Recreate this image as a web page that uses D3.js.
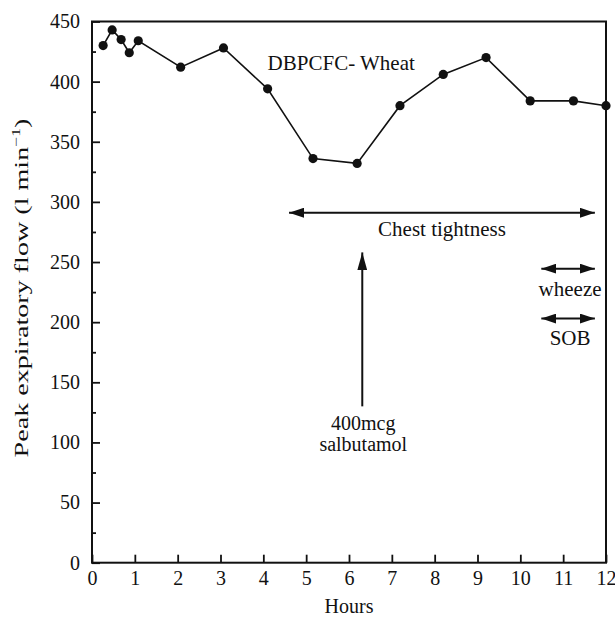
<!DOCTYPE html>
<html>
<head>
<meta charset="utf-8">
<script src="https://cdn.jsdelivr.net/npm/d3@7"></script>
<style>
  body { margin: 0; background: #fff; }
  svg { display: block; }
</style>
</head>
<body>
<svg id="chart"></svg>
<script>
// peak expiratory flow readings after wheat challenge
const hours = [0.26, 0.47, 0.68, 0.87, 1.08, 2.07, 3.07, 4.1, 5.16, 6.19, 7.19, 8.2, 9.2, 10.23, 11.24, 12];
const pef   = [430, 443, 435, 424, 434, 412, 428, 394, 336, 332, 380, 406, 420, 384, 384, 380];

const xTicks = d3.range(0, 13, 1);
const yTicks = d3.range(0, 451, 50);
const yMinor = d3.range(25, 450, 50);

// symptom spans: label, from hour, to hour, arrow value, label value
const spanLabels = ["Chest tightness", "wheeze", "SOB"];
const spanFrom   = [4.6, 10.49, 10.49];
const spanTo     = [11.74, 11.74, 11.74];
const spanAt     = [291, 244.5, 203];
const spanText   = [272, 222, 181];

// salbutamol dose arrow
const doseHour = 6.31;
const doseFrom = 130;
const doseTo   = 258;
const doseLines = ["400mcg", "salbutamol"];
const doseText  = [110, 92.5];

const W = 615, H = 622;
const plotL = 92, plotR = 606, plotT = 21.5, plotB = 562.7;
const font = "'Liberation Serif', 'Times New Roman', serif";
const ink = "#111";

const svg = d3.select("#chart").attr("width", W).attr("height", H);

const x = d3.scaleLinear().domain([0, 12]).range([plotL, plotR]);
const y = d3.scaleLinear().domain([0, 450]).range([plotB, plotT]);

const defs = svg.append("defs");
defs.append("marker")
    .attr("id", "headH")
    .attr("markerUnits", "userSpaceOnUse")
    .attr("viewBox", "0 -5 15 10")
    .attr("refX", 15).attr("refY", 0)
    .attr("markerWidth", 15).attr("markerHeight", 10)
    .attr("orient", "auto-start-reverse")
  .append("path").attr("d", "M0,-5L15,0L0,5Z").attr("fill", ink);
defs.append("marker")
    .attr("id", "headV")
    .attr("markerUnits", "userSpaceOnUse")
    .attr("viewBox", "0 -5 18 10")
    .attr("refX", 18).attr("refY", 0)
    .attr("markerWidth", 18).attr("markerHeight", 10)
    .attr("orient", "auto")
  .append("path").attr("d", "M0,-5L18,0L0,5Z").attr("fill", ink);

// axes
const xAxis = d3.axisBottom(x).tickValues(xTicks).tickSize(-8).tickPadding(8);
const gx = svg.append("g").attr("transform", `translate(0,${plotB})`).call(xAxis);
gx.select(".domain").remove();

const yAxis = d3.axisLeft(y).tickValues(yTicks).tickSize(-8).tickPadding(12);
const gy = svg.append("g").attr("transform", `translate(${plotL},0)`).call(yAxis);
gy.select(".domain").remove();

const yAxisMinor = d3.axisLeft(y).tickValues(yMinor).tickSize(-4).tickFormat("");
const gym = svg.append("g").attr("transform", `translate(${plotL},0)`).call(yAxisMinor);
gym.select(".domain").remove();

svg.selectAll(".tick line").attr("stroke", ink).attr("stroke-width", 1.8);
svg.selectAll(".tick text")
    .attr("font-family", font).attr("font-size", 20).attr("fill", ink);

// frame
svg.append("rect")
    .attr("x", x(0)).attr("y", y(450))
    .attr("width", x(12) - x(0)).attr("height", y(0) - y(450))
    .attr("fill", "none").attr("stroke", ink).attr("stroke-width", 2);

// axis titles
svg.append("text")
    .attr("x", (x(0) + x(12)) / 2).attr("y", 613)
    .attr("text-anchor", "middle")
    .attr("font-family", font).attr("font-size", 20).attr("fill", ink)
    .text("Hours");

// the original title is drawn stretched along its length
const yt = svg.append("text")
    .attr("transform", `translate(28,288) rotate(-90) scale(1.48,1)`)
    .attr("text-anchor", "middle")
    .attr("font-family", font).attr("font-size", 19).attr("fill", ink);
yt.append("tspan").text("Peak expiratory flow (l min");
yt.append("tspan").attr("font-size", 12).attr("dy", -8).text("\u22121");
yt.append("tspan").attr("dy", 8).text(")");

// data line
const line = d3.line().x(d => x(d[0])).y(d => y(d[1]));
const pts = hours.map((h, i) => [h, pef[i]]);
svg.append("path")
    .datum(pts)
    .attr("d", line)
    .attr("fill", "none").attr("stroke", ink).attr("stroke-width", 1.6);
svg.selectAll("circle.pt").data(pts).enter().append("circle")
    .attr("class", "pt")
    .attr("cx", d => x(d[0])).attr("cy", d => y(d[1]))
    .attr("r", 4.6).attr("fill", ink);

svg.append("text")
    .attr("x", x(4.1)).attr("y", 70)
    .attr("font-family", font).attr("font-size", 21).attr("fill", ink)
    .text("DBPCFC- Wheat");

// symptom arrows
spanLabels.forEach((lab, i) => {
  svg.append("line")
      .attr("x1", x(spanFrom[i])).attr("x2", x(spanTo[i]))
      .attr("y1", y(spanAt[i])).attr("y2", y(spanAt[i]))
      .attr("stroke", ink).attr("stroke-width", 2)
      .attr("marker-start", "url(#headH)")
      .attr("marker-end", "url(#headH)");
  svg.append("text")
      .attr("x", (x(spanFrom[i]) + x(spanTo[i])) / 2 + (i === 0 ? 0 : 2))
      .attr("y", y(spanText[i]))
      .attr("text-anchor", "middle")
      .attr("font-family", font).attr("font-size", 21).attr("fill", ink)
      .text(lab);
});

// salbutamol arrow
svg.append("line")
    .attr("x1", x(doseHour)).attr("x2", x(doseHour))
    .attr("y1", y(doseFrom)).attr("y2", y(doseTo))
    .attr("stroke", ink).attr("stroke-width", 2)
    .attr("marker-end", "url(#headV)");
doseLines.forEach((t, i) => {
  svg.append("text")
      .attr("x", x(doseHour) + 1).attr("y", y(doseText[i]))
      .attr("text-anchor", "middle")
      .attr("font-family", font).attr("font-size", 20).attr("fill", ink)
      .text(t);
});
</script>
</body>
</html>
